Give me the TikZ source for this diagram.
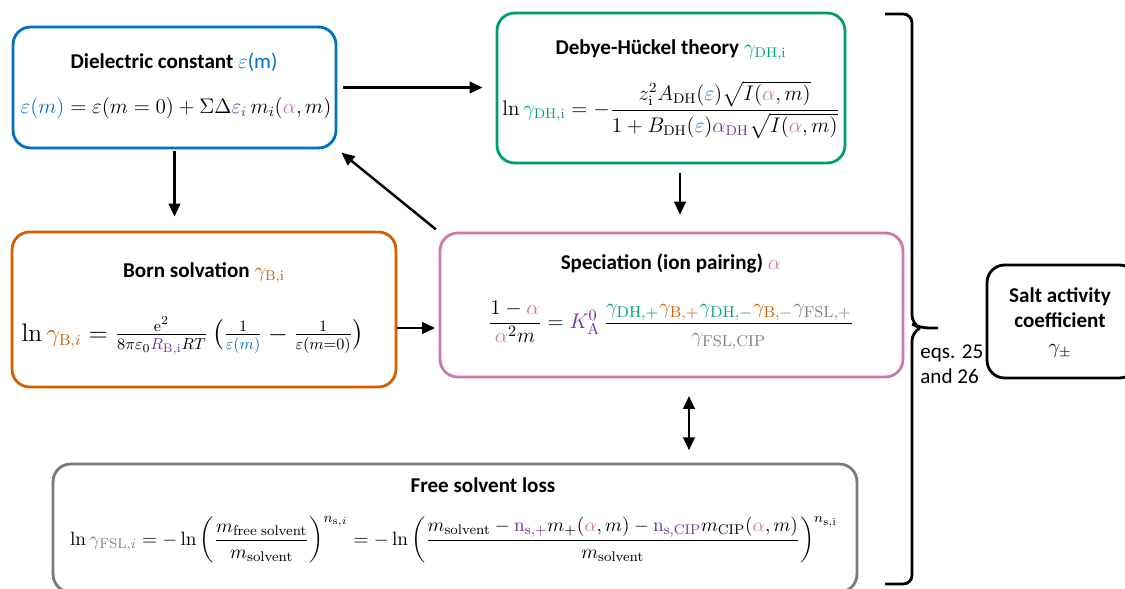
\documentclass[tikz,border=0pt]{standalone}
\usepackage{amsmath}
\usepackage[no-math]{fontspec}
\setmainfont{Carlito}
\usepackage{xcolor}
\usepackage{tikz}
\usetikzlibrary{
  arrows.meta,
  positioning,
  calc
}
\definecolor{acEps}{HTML}{0072BD}
\definecolor{acDH}{HTML}{009E73}
\definecolor{acBorn}{HTML}{D55E00}
\definecolor{acSpec}{HTML}{CC79A7}
\definecolor{acPar}{HTML}{7030A0}
\definecolor{acFSL}{HTML}{808080}
\newcommand{\pal}{\textcolor{acSpec}{\alpha}}
\tikzset{
  acnode/.style={
    draw, rounded corners=10pt, line width=1.6pt, fill=white
  },
  epsbox/.style={acnode, draw=acEps, minimum width=6.46cm, minimum height=2.42cm},
  dhbox/.style={acnode, draw=acDH, minimum width=6.96cm, minimum height=3.0cm},
  bornbox/.style={acnode, draw=acBorn, minimum width=7.68cm, minimum height=3.1cm},
  specbox/.style={acnode, draw=acSpec, minimum width=9.26cm, minimum height=2.88cm},
  fslbox/.style={acnode, draw=acFSL!95!black, minimum width=16.08cm, minimum height=2.56cm},
  saltbox/.style={acnode, draw=black, minimum width=3.0cm, minimum height=2.26cm},
  title/.style={font=\fontsize{12}{14}\selectfont\bfseries, inner sep=0pt},
  eqn/.style={font=\fontsize{12}{14}\selectfont, inner sep=0pt},
  bigeqn/.style={font=\fontsize{13}{15}\selectfont, inner sep=0pt},
  flow/.style={-{Triangle[length=2.6mm,width=2.3mm]}, line width=1.4pt},
  flowboth/.style={{Triangle[length=2.6mm,width=2.3mm]}-{Triangle[length=2.6mm,width=2.3mm]}, line width=1.4pt},
  bracket/.style={line width=1.6pt, rounded corners=5pt}
}

\begin{document}
\begin{tikzpicture}[x=0.02cm, y=-0.02cm]
  \useasboundingbox (0,0) rectangle (1125,588);
  % boxes
  \node[epsbox] (eps) at (174.5,87.5) {};
  \node[dhbox] (dh) at (671,88) {};
  \node[bornbox] (born) at (204,309.5) {};
  \node[specbox] (spec) at (671.5,305) {};
  \node[fslbox] (fsl) at (455,528) {};
  \node[saltbox] (salt) at (1062,321.5) {};

  % titles and equations
  \node[title] (epst) at (174,62) {Dielectric constant \textcolor{acEps}{\mdseries$\varepsilon$(m)}};
  \node[eqn] (epse) at (176,108)
    {$\textcolor{acEps}{\varepsilon(m)} = \varepsilon(m=0) + \Sigma\Delta\textcolor{acPar}{\varepsilon_i}\, m_i(\pal, m)$};
  \node[title] (dht) at (671,50) {Debye-Hückel theory $\textcolor{acDH}{\gamma_{\mathrm{DH,i}}}$};
  \node[eqn] (dhe) at (671,110)
    {$\ln \textcolor{acDH}{\gamma_{\mathrm{DH,i}}} = -\dfrac{z_{\mathrm{i}}^{2} A_{\mathrm{DH}}(\textcolor{acEps}{\varepsilon})\sqrt{I(\pal, m)}}{1 + B_{\mathrm{DH}}(\textcolor{acEps}{\varepsilon})\textcolor{acPar}{\alpha_{\mathrm{DH}}}\sqrt{I(\pal, m)}}$};
  \node[title] (bornt) at (204,273) {Born solvation $\textcolor{acBorn}{\gamma_{\mathrm{B,i}}}$};
  \node[bigeqn, font=\fontsize{13.5}{15}\selectfont] (borne) at (193,336)
    {$\ln \textcolor{acBorn}{\gamma_{\mathrm{B},i}} = \tfrac{\mathrm{e}^2}{8\pi\varepsilon_0 \textcolor{acPar}{R_{\mathrm{B,i}}} RT}\,\bigl(\tfrac{1}{\textcolor{acEps}{\varepsilon(m)}} - \tfrac{1}{\varepsilon(m{=}0)}\bigr)$};
  \node[title] (spect) at (671,263) {Speciation (ion pairing) $\pal$};
  \node[bigeqn] (spece) at (671,325)
    {$\dfrac{1-\pal}{\pal^{2} m} = \textcolor{acPar}{K_{\mathrm{A}}^{0}}\,\dfrac{\textcolor{acDH}{\gamma_{\mathrm{DH},+}}\textcolor{acBorn}{\gamma_{\mathrm{B},+}}\textcolor{acDH}{\gamma_{\mathrm{DH},-}}\textcolor{acBorn}{\gamma_{\mathrm{B},-}}\textcolor{acFSL}{\gamma_{\mathrm{FSL},+}}}{\textcolor{acFSL}{\gamma_{\mathrm{FSL,CIP}}}}$};
  \node[title] (fslt) at (483,485) {Free solvent loss};
  \node[eqn, font=\fontsize{11.4}{14}\selectfont] (fsle) at (454,540)
    {$\ln \textcolor{acFSL}{\gamma_{\mathrm{FSL},i}} = -\ln\left(\dfrac{m_{\mathrm{free\ solvent}}}{m_{\mathrm{solvent}}}\right)^{n_{\mathrm{s},i}} = -\ln\left(\dfrac{m_{\mathrm{solvent}} - \textcolor{acPar}{\mathrm{n}_{\mathrm{s},+}} m_{+}(\pal, m) - \textcolor{acPar}{\mathrm{n}_{\mathrm{s,CIP}}} m_{\mathrm{CIP}}(\pal, m)}{m_{\mathrm{solvent}}}\right)^{n_{\mathrm{s,i}}}$};
  \node[title, align=center] (saltt) at (1060,323) {Salt activity\\coefficient\\[1pt]\mdseries$\gamma_{\pm}$};
  \node[eqn, anchor=west, align=left] (eqref) at (920,364) {eqs. 25\\and 26};

  % brace
  \coordinate (tip) at (938,328);
  \draw[bracket] (885,14) -- (912,14) -- (912,324) -- (920,328) -- (tip);
  \draw[bracket] (920,328) -- (912,332) -- (912,584) -- (885,584);

  % connectors
  \draw[flow, shorten <=3.4pt, shorten >=7.4pt] (eps.east) -- (eps.east -| dh.west);
  \draw[flow, shorten <=1pt, shorten >=8pt] (eps.south) -- (eps.south |- born.north);
  \draw[flow, shorten <=5pt, shorten >=9.6pt] ([xshift=0.18cm]dh.south) -- ([xshift=0.18cm]dh.south |- spec.north);
  \draw[flow, shorten >=2pt] ([yshift=-0.37cm]born.east) -- ([yshift=-0.37cm]born.east -| spec.west);
  \draw[flow, shorten <=2pt, shorten >=3pt] (spec.north west) -- (eps.south east);
  \draw[flowboth, shorten <=10pt, shorten >=7pt] ([xshift=0.35cm]spec.south) -- ([xshift=0.35cm]spec.south |- fsl.north);
\end{tikzpicture}
\end{document}
